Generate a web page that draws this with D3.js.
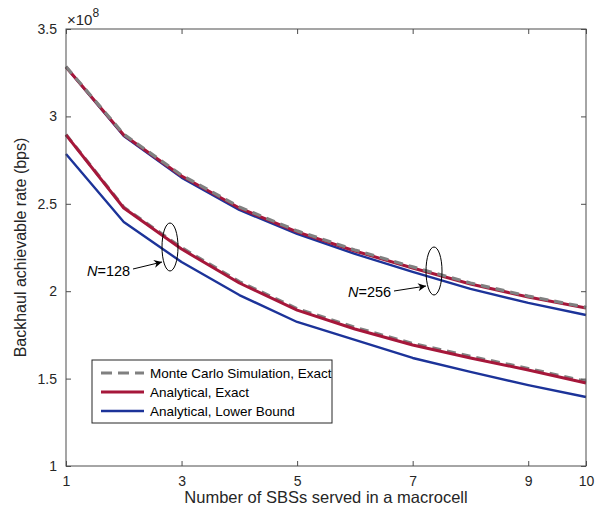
<!doctype html>
<html>

<head>
	<style>
		body { margin: 0; background: #fff; }
		text { font-family: "Liberation Sans", Arial, sans-serif; }
	</style>
</head>

<body>
	<div class="figure"></div>

	<script src="https://d3js.org/d3.v7.min.js"></script>
	<script>
		// number of SBSs
		let sbs = [1, 2, 3, 4, 5, 6, 7, 8, 9, 10];
		// rate, x1e8 bps; N = 256
		let mc256 = [3.285, 2.898, 2.664, 2.482, 2.345, 2.236, 2.139, 2.047, 1.972, 1.908];
		let exact256 = [3.283, 2.894, 2.659, 2.476, 2.339, 2.230, 2.133, 2.041, 1.967, 1.904];
		let lower256 = [3.283, 2.888, 2.650, 2.465, 2.328, 2.213, 2.110, 2.013, 1.933, 1.864];
		// N = 128
		let mc128 = [2.896, 2.480, 2.249, 2.055, 1.900, 1.793, 1.701, 1.627, 1.558, 1.484];
		let exact128 = [2.894, 2.476, 2.241, 2.047, 1.892, 1.784, 1.692, 1.618, 1.549, 1.475];
		let lower128 = [2.785, 2.396, 2.167, 1.978, 1.824, 1.721, 1.618, 1.538, 1.463, 1.395];
		let xTicks = [1, 3, 5, 7, 9, 10];
		let yTicks = [1, 1.5, 2, 2.5, 3, 3.5];
		let legendNames = ["Monte Carlo Simulation, Exact", "Analytical, Exact", "Analytical, Lower Bound"];

		let W = 600, H = 516;
		let pLeft = 66, pRight = 586, pTop = 29, pBottom = 466;
		let axisColor = "#4d4d4d";

		let svg = d3.select(".figure")
			.append("svg")
			.attr("width", W)
			.attr("height", H);

		let x = d3.scaleLinear().domain([1, 10]).range([pLeft, pRight]);
		let y = d3.scaleLinear().domain([1, 3.5]).range([pBottom, pTop]);

		let line = d3.line()
			.x((d, i) => x(sbs[i]))
			.y(d => y(d));

		let styles = {
			mc: { stroke: "#808080", width: 3.2, dash: "9,6" },
			exact: { stroke: "#a6173a", width: 3, dash: null },
			lower: { stroke: "#1c3399", width: 2.4, dash: null }
		};

		function drawCurve(data, st) {
			svg.append("path")
				.datum(data)
				.attr("d", line)
				.attr("fill", "none")
				.attr("stroke", st.stroke)
				.attr("stroke-width", st.width)
				.attr("stroke-dasharray", st.dash)
				.attr("stroke-linejoin", "round");
		}

		drawCurve(lower256, styles.lower);
		drawCurve(lower128, styles.lower);
		drawCurve(mc128, styles.mc);
		drawCurve(exact256, styles.exact);
		drawCurve(exact128, styles.exact);
		drawCurve(mc256, styles.mc);

		// axes box
		svg.append("rect")
			.attr("x", pLeft).attr("y", pTop)
			.attr("width", pRight - pLeft).attr("height", pBottom - pTop)
			.attr("fill", "none")
			.attr("stroke", axisColor)
			.attr("stroke-width", 1);

		let xAxis = svg.append("g")
			.attr("transform", "translate(0," + pBottom + ")")
			.call(d3.axisBottom(x).tickValues(xTicks).tickSizeInner(-5).tickSizeOuter(0).tickPadding(10));
		let xAxisTop = svg.append("g")
			.attr("transform", "translate(0," + pTop + ")")
			.call(d3.axisTop(x).tickValues(xTicks).tickSizeInner(-5).tickSizeOuter(0).tickFormat(""));
		let yAxis = svg.append("g")
			.attr("transform", "translate(" + pLeft + ",0)")
			.call(d3.axisLeft(y).tickValues(yTicks).tickSizeInner(-5).tickSizeOuter(0).tickPadding(9).tickFormat(d3.format("")));
		let yAxisRight = svg.append("g")
			.attr("transform", "translate(" + pRight + ",0)")
			.call(d3.axisRight(y).tickValues(yTicks).tickSizeInner(-5).tickSizeOuter(0).tickFormat(""));

		[xAxis, xAxisTop, yAxis, yAxisRight].forEach(g => {
			g.select(".domain").remove();
			g.selectAll("line").attr("stroke", axisColor);
			g.attr("font-size", 14).attr("font-family", "'Liberation Sans', Arial, sans-serif");
			g.selectAll("text")
				.attr("fill", "#262626");
		});

		// exponent
		let expo = svg.append("text")
			.attr("x", pLeft + 1)
			.attr("y", 25)
			.attr("fill", "#262626")
			.attr("font-size", 15);
		expo.append("tspan").text("×10");
		expo.append("tspan").attr("dy", -8).attr("font-size", 12).text("8");

		// axis labels
		svg.append("text")
			.attr("x", (pLeft + pRight) / 2)
			.attr("y", 503)
			.attr("text-anchor", "middle")
			.attr("fill", "#262626")
			.attr("font-size", 16.5)
			.text("Number of SBSs served in a macrocell");

		svg.append("text")
			.attr("transform", "translate(26," + ((pTop + pBottom) / 2) + ") rotate(-90)")
			.attr("text-anchor", "middle")
			.attr("fill", "#262626")
			.attr("font-size", 16)
			.text("Backhaul achievable rate (bps)");

		// annotations
		svg.append("defs").append("marker")
			.attr("id", "arrow")
			.attr("viewBox", "0 0 10 10")
			.attr("refX", 10).attr("refY", 5)
			.attr("markerWidth", 10).attr("markerHeight", 8)
			.attr("markerUnits", "userSpaceOnUse")
			.attr("orient", "auto")
			.append("path")
			.attr("d", "M0,0 L10,5 L0,10 L3,5 Z")
			.attr("fill", "#000");

		function annotate(cx, cy, label, tx, ty, ax, ay) {
			svg.append("ellipse")
				.attr("cx", cx).attr("cy", cy)
				.attr("rx", 8).attr("ry", 24)
				.attr("fill", "none")
				.attr("stroke", "#000")
				.attr("stroke-width", 1);
			svg.append("line")
				.attr("x1", ax).attr("y1", ay)
				.attr("x2", cx - 8).attr("y2", cy + 15)
				.attr("stroke", "#000")
				.attr("stroke-width", 1)
				.attr("marker-end", "url(#arrow)");
			let t = svg.append("text")
				.attr("x", tx).attr("y", ty)
				.attr("fill", "#000")
				.attr("font-size", 14.5);
			t.append("tspan").style("font-style", "italic").text("N");
			t.append("tspan").text(label);
		}

		annotate(170, 247, "=128", 87, 276, 133, 269);
		annotate(434, 271, "=256", 348, 297, 394, 291);

		// legend
		let lg = svg.append("g");
		lg.append("rect")
			.attr("x", 92).attr("y", 360)
			.attr("width", 240).attr("height", 63)
			.attr("fill", "#fff")
			.attr("stroke", "#262626")
			.attr("stroke-width", 1);

		let legendStyles = [styles.mc, styles.exact, styles.lower];
		legendNames.forEach((name, i) => {
			let ly = 373 + i * 19;
			lg.append("line")
				.attr("x1", 101).attr("x2", 144)
				.attr("y1", ly).attr("y2", ly)
				.attr("stroke", legendStyles[i].stroke)
				.attr("stroke-width", legendStyles[i].width)
				.attr("stroke-dasharray", legendStyles[i].dash ? "11,6" : null);
			lg.append("text")
				.attr("x", 150).attr("y", ly + 5)
				.attr("fill", "#000")
				.attr("font-size", 13.5)
				.text(name);
		});
	</script>

</body>

</html>
